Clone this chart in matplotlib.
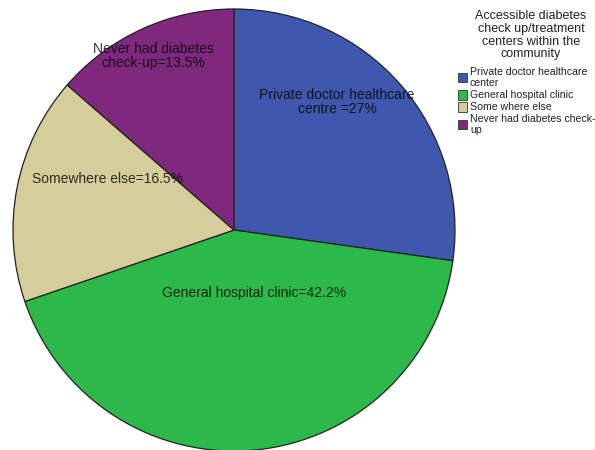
import matplotlib.pyplot as plt
from matplotlib.patches import Rectangle

plt.rcParams['font.family'] = ['Liberation Sans', 'DejaVu Sans']

# slice data, clockwise from 12 o'clock
categories = ["Private doctor healthcare\ncenter", "General hospital clinic",
              "Some where else", "Never had diabetes check-\nup"]
shares = [27.0, 42.2, 16.5, 13.5]
slice_labels = ["Private doctor healthcare\ncentre =27%", "General hospital clinic=42.2%",
                "Somewhere else=16.5%", "Never had diabetes\ncheck-up=13.5%"]
colors = ["#3F57AC", "#2DB84A", "#D5CD9B", "#7E287E"]
legend_title = "Accessible diabetes\ncheck up/treatment\ncenters within the\ncommunity"

W, H = 595, 450
cx, cy, r = 234, 230, 221

fig = plt.figure(figsize=(W / 100, H / 100), dpi=100)
ax = fig.add_axes([(cx - r) / W, (H - cy - r) / H, 2 * r / W, 2 * r / H])

wedges, _ = ax.pie(shares, colors=colors, startangle=90, counterclock=False,
                   normalize=True, radius=1,
                   wedgeprops=dict(edgecolor="#222222", linewidth=0.9))
ax.set_xlim(-1, 1)
ax.set_ylim(-1, 1)
ax.axis("off")

# label centres in figure pixels (from top-left)
label_px = [(337, 102), (254, 293), (107, 179), (153, 56)]
for txt, (px, py) in zip(slice_labels, label_px):
    ax.text((px - cx) / r, (cy - py) / r, txt, ha="center", va="center",
            fontsize=10, color="black", alpha=0.78, linespacing=1.05)

# legend drawn by hand, pixel layout
def fy(py):
    return 1 - py / H

# title lines one by one so the spacing is fixed
for k, ln in enumerate(legend_title.split("\n")):
    fig.text(531 / W, fy(16 + k * 12.8), ln, ha="center", va="center",
             fontsize=9, color="#222222")

pitch = 11
gap = 1
line_y = 72
for name, col in zip(categories, colors):
    lines = name.split("\n")
    ys = [line_y + k * pitch for k in range(len(lines))]
    for ln, y in zip(lines, ys):
        fig.text(470 / W, fy(y), ln, ha="left", va="center", fontsize=7.6,
                 color="#222222")
    mid = sum(ys) / len(ys)
    fig.patches.append(Rectangle((457.5 / W, fy(mid + 4.5)), 9.5 / W, 9.5 / H,
                                 transform=fig.transFigure, facecolor=col,
                                 edgecolor="#333333", linewidth=0.6))
    line_y += pitch * len(lines) + gap

fig.savefig("out.png", dpi=100)
